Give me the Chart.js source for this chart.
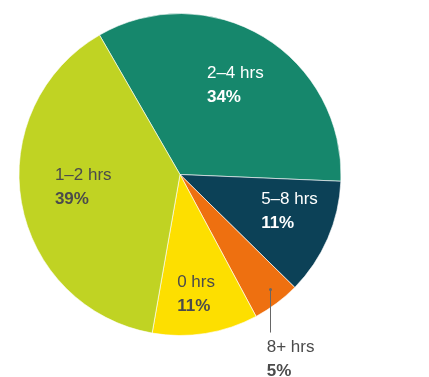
<!DOCTYPE html>
<html>
<head>
<meta charset="utf-8">
<script src="https://cdn.jsdelivr.net/npm/chart.js@4/dist/chart.umd.min.js"></script>
<style>
  html, body { margin: 0; padding: 0; background: #fff; }
</style>
</head>
<body>
<canvas id="chart" width="429" height="377"></canvas>
<script>
const categories = ['2–4 hrs', '5–8 hrs', '8+ hrs', '0 hrs', '1–2 hrs']
// slice sizes as measured from the arcs; printed labels as shown on the chart
const shares = [34, 11.7, 4.8, 10.6, 38.9]
const shareLabels = ['34%', '11%', '5%', '11%', '39%']
const sliceColors = ['#16876C', '#0C4157', '#EE7010', '#FDDF00', '#C0D323']
const textColors = ['#ffffff', '#ffffff', '#4b4b4b', '#4b4b4b', '#4b4b4b']

// label placement: fraction of radius, small angle tweak (deg), outside leader?
const labelDist = [0.652, 0.717, 0.906, 0.753, 0.606]
const labelTurn = [0.6, -5, -1.1, 1.5, 2.7]
const labelOutside = [false, false, true, false, false]

const FONT = '"Liberation Sans", Arial, Helvetica, sans-serif'

const sliceLabels = {
  id: 'sliceLabels',
  afterDatasetsDraw(chart) {
    const ctx = chart.ctx
    const arcs = chart.getDatasetMeta(0).data
    ctx.save()
    ctx.textBaseline = 'middle'
    ctx.textAlign = 'left'
    arcs.forEach((arc, i) => {
      const { x, y, startAngle, endAngle, outerRadius } = arc.getProps(['x', 'y', 'startAngle', 'endAngle', 'outerRadius'], true)
      const mid = (startAngle + endAngle) / 2 + labelTurn[i] * Math.PI / 180
      const px = x + Math.cos(mid) * outerRadius * labelDist[i]
      const py = y + Math.sin(mid) * outerRadius * labelDist[i]
      const line1 = categories[i]
      const line2 = shareLabels[i]
      ctx.fillStyle = textColors[i]
      if (labelOutside[i]) {
        const lx0 = Math.round(px) + 0.5
        const lineEnd = py + 43
        ctx.strokeStyle = '#666'
        ctx.lineWidth = 1
        ctx.beginPath()
        ctx.moveTo(lx0, py)
        ctx.lineTo(lx0, lineEnd)
        ctx.stroke()
        ctx.fillStyle = '#666'
        ctx.beginPath()
        ctx.arc(lx0, py, 1.5, 0, Math.PI * 2)
        ctx.fill()
        ctx.fillStyle = textColors[i]
        const lx = px - 3
        ctx.font = '17px ' + FONT
        ctx.fillText(line1, lx, lineEnd + 15)
        ctx.font = 'bold 17px ' + FONT
        ctx.fillText(line2, lx, lineEnd + 39)
      } else {
        ctx.font = '17px ' + FONT
        const w1 = ctx.measureText(line1).width
        ctx.font = 'bold 17px ' + FONT
        const w2 = ctx.measureText(line2).width
        const lx = px - Math.max(w1, w2) / 2
        ctx.font = '17px ' + FONT
        ctx.fillText(line1, lx, py - 12)
        ctx.font = 'bold 17px ' + FONT
        ctx.fillText(line2, lx, py + 12)
      }
    })
    ctx.restore()
  }
}

new Chart(document.getElementById('chart'), {
  type: 'pie',
  data: {
    labels: categories,
    datasets: [{
      data: shares,
      backgroundColor: sliceColors,
      borderColor: 'rgba(255,255,255,0.6)',
      borderWidth: 1
    }]
  },
  options: {
    responsive: false,
    animation: false,
    rotation: -30,
    layout: { padding: { left: 18, right: 87, top: 13, bottom: 41 } },
    plugins: {
      legend: { display: false },
      tooltip: { enabled: false }
    }
  },
  plugins: [sliceLabels]
})
</script>
</body>
</html>
